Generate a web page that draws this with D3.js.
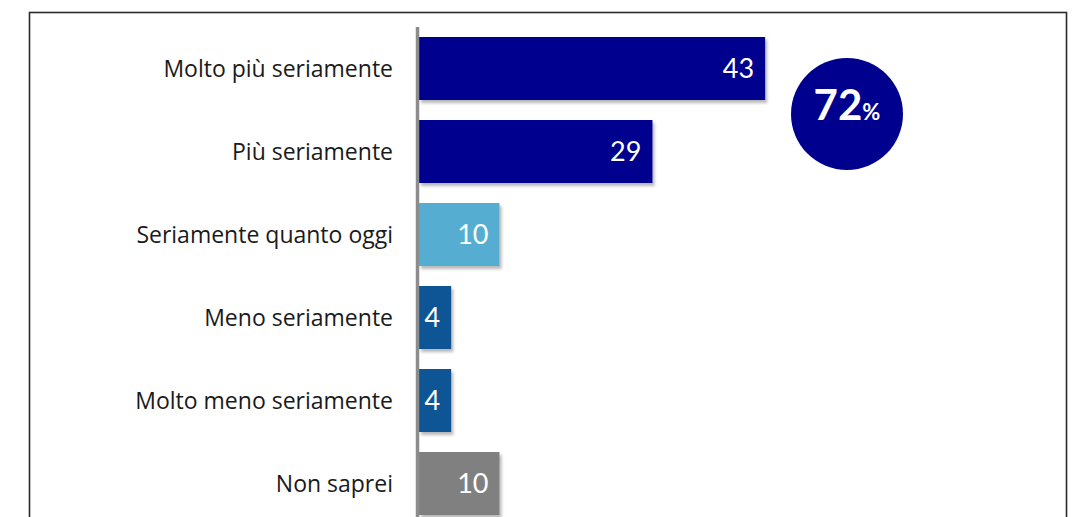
<!DOCTYPE html>
<html>
<head>
<meta charset="utf-8">
<style>
  body { margin: 0; background: #fff; }
  svg { display: block; font-family: Lato, "Open Sans", sans-serif; }
</style>
</head>
<body>
<div id="chart"></div>
<script src="https://d3js.org/d3.v7.min.js"></script>
<script>
// dati
const categories = ["Molto più seriamente", "Più seriamente", "Seriamente quanto oggi",
                    "Meno seriamente", "Molto meno seriamente", "Non saprei"];
const values = [43, 29, 10, 4, 4, 10];
const barColors = ["#00008f", "#00008f", "#55aed1", "#0b5494", "#0b5494", "#808080"];
const totalLabel = "72";

const width = 1075, height = 517;

const svg = d3.select("#chart").append("svg")
    .attr("width", width)
    .attr("height", height);

// ombra delle barre
const defs = svg.append("defs");
defs.append("filter")
    .attr("id", "shadow")
    .attr("x", "-10%").attr("y", "-10%")
    .attr("width", "130%").attr("height", "140%")
  .append("feDropShadow")
    .attr("dx", 2).attr("dy", 3)
    .attr("stdDeviation", 1.8)
    .attr("flood-color", "#000")
    .attr("flood-opacity", 0.28);

// cornice
svg.append("rect")
    .attr("x", 29.5).attr("y", 12.5)
    .attr("width", 1037).attr("height", 530)
    .attr("fill", "none")
    .attr("stroke", "#2b2b2b")
    .attr("stroke-width", 1.6);

const x = d3.scaleLinear().domain([0, 80]).range([419, 419 + 644]);
const y = d3.scaleBand()
    .domain(categories)
    .range([27, 525])
    .paddingInner(0.241)
    .paddingOuter(0.1205);

// barre
svg.append("g")
    .selectAll("rect")
    .data(values)
    .join("rect")
    .attr("x", x(0))
    .attr("y", (d, i) => y(categories[i]))
    .attr("width", d => x(d) - x(0))
    .attr("height", y.bandwidth())
    .attr("fill", (d, i) => barColors[i])
    .attr("filter", "url(#shadow)");

// asse verticale
svg.append("line")
    .attr("x1", 417.5).attr("x2", 417.5)
    .attr("y1", 27).attr("y2", height)
    .attr("stroke", "#8c8c8c")
    .attr("stroke-width", 3.5);

// etichette categorie
svg.append("g")
    .selectAll("text")
    .data(categories)
    .join("text")
    .attr("x", 393)
    .attr("y", d => y(d) + y.bandwidth() / 2)
    .attr("dy", "0.35em")
    .attr("text-anchor", "end")
    .attr("fill", "#1a1a1a")
    .style("font-family", "'Open Sans', sans-serif")
    .style("font-size", "23px")
    .text(d => d);

// valori
svg.append("g")
    .selectAll("text")
    .data(values)
    .join("text")
    .attr("x", d => x(d) - 11)
    .attr("y", (d, i) => y(categories[i]) + y.bandwidth() / 2)
    .attr("dy", "0.36em")
    .attr("text-anchor", "end")
    .attr("fill", "#fff")
    .style("font-size", "27px")
    .text(d => d);

// cerchio totale
svg.append("circle")
    .attr("cx", 847).attr("cy", 114)
    .attr("r", 56)
    .attr("fill", "#00008f");

const tot = svg.append("text")
    .attr("x", 847).attr("y", 114)
    .attr("dy", "0.36em")
    .attr("text-anchor", "middle")
    .attr("fill", "#fff")
    .style("font-weight", "bold");
tot.append("tspan").style("font-size", "42px").text(totalLabel);
tot.append("tspan").style("font-size", "22px").text("%");
</script>
</body>
</html>
